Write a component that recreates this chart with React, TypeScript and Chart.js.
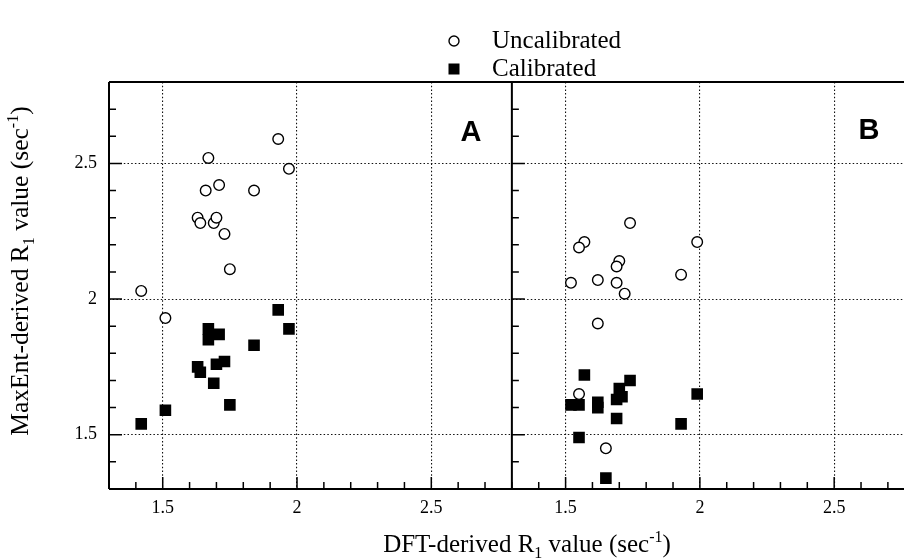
import React, { useEffect, useRef } from 'react';
import { Chart, registerables } from 'chart.js';

Chart.register(...registerables);

// Axis ranges and tick values
const xMin = 1.3;
const xMaxA = 2.8;
const xMaxB = 2.76; // panel B is cut off at the right edge of the figure
const yMin = 1.3;
const yMax = 2.8;
const xTickValues = [1.5, 2, 2.5];
const yTickValues = [1.5, 2, 2.5];

// Panel A
const aUncalX = [1.42, 1.51, 1.67, 1.93, 1.97, 1.71, 1.66, 1.84, 1.63, 1.64, 1.69, 1.70, 1.73, 1.75];
const aUncalY = [2.03, 1.93, 2.52, 2.59, 2.48, 2.42, 2.40, 2.40, 2.30, 2.28, 2.28, 2.30, 2.24, 2.11];
const aCalX = [1.42, 1.51, 1.93, 1.97, 1.67, 1.71, 1.67, 1.84, 1.63, 1.64, 1.70, 1.73, 1.69, 1.75];
const aCalY = [1.54, 1.59, 1.96, 1.89, 1.89, 1.87, 1.85, 1.83, 1.75, 1.73, 1.76, 1.77, 1.69, 1.61];

// Panel B
const bUncalX = [1.74, 1.57, 1.55, 1.99, 1.70, 1.69, 1.52, 1.62, 1.69, 1.93, 1.72, 1.62, 1.55, 1.65];
const bUncalY = [2.28, 2.21, 2.19, 2.21, 2.14, 2.12, 2.06, 2.07, 2.06, 2.09, 2.02, 1.91, 1.65, 1.45];
const bCalX = [1.57, 1.74, 1.70, 1.71, 1.69, 1.99, 1.62, 1.62, 1.52, 1.55, 1.69, 1.93, 1.55, 1.65];
const bCalY = [1.72, 1.70, 1.67, 1.64, 1.63, 1.65, 1.62, 1.60, 1.61, 1.61, 1.56, 1.54, 1.49, 1.34];

const legendLabels = ['Uncalibrated', 'Calibrated'];
const panelLabels = ['A', 'B'];

const SERIF = '"Liberation Serif", "Times New Roman", serif';
const SANS = '"Liberation Sans", Arial, sans-serif';

const toPoints = (xs: number[], ys: number[]) => xs.map((x, i) => ({ x, y: ys[i] }));

type Run = { t: string; size: number; dy: number };

function drawRuns(ctx: CanvasRenderingContext2D, runs: Run[], cx: number, baseline: number) {
  let total = 0;
  const widths = runs.map((r) => {
    ctx.font = `${r.size}px ${SERIF}`;
    const w = ctx.measureText(r.t).width;
    total += w;
    return w;
  });
  let x = cx - total / 2;
  ctx.textAlign = 'left';
  ctx.textBaseline = 'alphabetic';
  runs.forEach((r, i) => {
    ctx.font = `${r.size}px ${SERIF}`;
    ctx.fillText(r.t, x, baseline + r.dy);
    x += widths[i];
  });
}

const isMajor = (v: number, majors: number[]) => majors.some((m) => Math.abs(m - v) < 1e-6);

const decorPlugin = {
  id: 'decor',
  afterDraw(chart: any) {
    const ctx: CanvasRenderingContext2D = chart.ctx;
    const ca = chart.chartArea;
    const sA = chart.scales.xA;
    const sB = chart.scales.xB;
    const sY = chart.scales.y;
    ctx.save();
    ctx.strokeStyle = '#000';
    ctx.fillStyle = '#000';

    // inward tick marks
    ctx.lineWidth = 1.5;
    ctx.beginPath();
    for (let k = Math.round(yMin * 10); k <= Math.round(yMax * 10); k++) {
      const v = k / 10;
      const py = sY.getPixelForValue(v);
      const len = isMajor(v, yTickValues) ? 13 : 7;
      ctx.moveTo(sA.left, py);
      ctx.lineTo(sA.left + len, py);
      ctx.moveTo(sB.left, py);
      ctx.lineTo(sB.left + len, py);
    }
    const xTicks = (s: any, max: number) => {
      for (let k = Math.round(xMin * 10) + 1; k <= Math.floor(max * 10 + 1e-6); k++) {
        const v = k / 10;
        const px = s.getPixelForValue(v);
        const len = isMajor(v, xTickValues) ? 12 : 7;
        ctx.moveTo(px, ca.bottom);
        ctx.lineTo(px, ca.bottom - len);
      }
    };
    xTicks(sA, xMaxA);
    xTicks(sB, xMaxB);
    ctx.stroke();

    // frame
    ctx.lineWidth = 2;
    ctx.beginPath();
    ctx.moveTo(ca.left, ca.top);
    ctx.lineTo(ca.right, ca.top);
    ctx.moveTo(ca.left, ca.top);
    ctx.lineTo(ca.left, ca.bottom);
    ctx.moveTo(ca.left, ca.bottom);
    ctx.lineTo(ca.right, ca.bottom);
    ctx.moveTo(sB.left, ca.top);
    ctx.lineTo(sB.left, ca.bottom);
    ctx.stroke();

    // panel letters
    ctx.font = `bold 29px ${SANS}`;
    ctx.textAlign = 'center';
    ctx.textBaseline = 'middle';
    ctx.fillText(panelLabels[0], sA.right - 41, ca.top + 51);
    ctx.fillText(panelLabels[1], sB.right - 35, ca.top + 49);

    // legend
    ctx.lineWidth = 1.4;
    ctx.fillStyle = '#fff';
    ctx.beginPath();
    ctx.arc(454, 41, 5, 0, Math.PI * 2);
    ctx.fill();
    ctx.stroke();
    ctx.fillStyle = '#000';
    ctx.fillRect(454 - 5.5, 69 - 5.5, 11, 11);
    ctx.font = `25px ${SERIF}`;
    ctx.textAlign = 'left';
    ctx.textBaseline = 'alphabetic';
    ctx.fillText(legendLabels[0], 492, 48);
    ctx.fillText(legendLabels[1], 492, 76);

    // x axis title
    drawRuns(
      ctx,
      [
        { t: 'DFT-derived R', size: 25, dy: 0 },
        { t: '1', size: 16, dy: 6 },
        { t: ' value (sec', size: 25, dy: 0 },
        { t: '-1', size: 16, dy: -10 },
        { t: ')', size: 25, dy: 0 },
      ],
      527,
      552
    );

    // y axis title (rotated)
    ctx.translate(28, 271);
    ctx.rotate(-Math.PI / 2);
    drawRuns(
      ctx,
      [
        { t: 'MaxEnt-derived R', size: 25.5, dy: 0 },
        { t: '1', size: 16, dy: 6 },
        { t: ' value (sec', size: 25.5, dy: 0 },
        { t: '-1', size: 16, dy: -10 },
        { t: ')', size: 25.5, dy: 0 },
      ],
      0,
      0
    );
    ctx.restore();
  },
};

const fmt = (v: number) => String(Math.round(v * 10) / 10);

function xScale(max: number, weight: number) {
  return {
    type: 'linear',
    position: 'bottom',
    stack: 'panels',
    stackWeight: weight,
    min: xMin,
    max,
    afterBuildTicks: (s: any) => {
      s.ticks = xTickValues.map((v) => ({ value: v }));
    },
    afterFit: (s: any) => {
      s.height = 29;
    },
    ticks: {
      padding: 8,
      color: '#000',
      font: { family: SERIF, size: 18 },
      callback: (v: number) => fmt(v),
      maxRotation: 0,
      autoSkip: false,
    },
    grid: {
      drawTicks: false,
      color: '#111',
      lineWidth: 1.1,
    },
    border: { display: false, dash: [1.5, 2.2] },
  };
}

export default function App() {
  const ref = useRef<HTMLCanvasElement | null>(null);

  useEffect(() => {
    if (!ref.current) return;
    const pointStyleOpen = {
      pointStyle: 'circle',
      pointRadius: 5.3,
      pointBorderWidth: 1.4,
      pointBackgroundColor: '#fff',
      pointBorderColor: '#000',
    };
    const pointStyleFilled = {
      pointStyle: 'rect',
      pointRadius: 8.2,
      pointBorderWidth: 0,
      pointBackgroundColor: '#000',
      pointBorderColor: '#000',
    };
    const chart = new Chart(ref.current, {
      type: 'scatter',
      data: {
        datasets: [
          { label: 'A ' + legendLabels[0], data: toPoints(aUncalX, aUncalY), xAxisID: 'xA', yAxisID: 'y', ...pointStyleOpen },
          { label: 'A ' + legendLabels[1], data: toPoints(aCalX, aCalY), xAxisID: 'xA', yAxisID: 'y', ...pointStyleFilled },
          { label: 'B ' + legendLabels[0], data: toPoints(bUncalX, bUncalY), xAxisID: 'xB', yAxisID: 'y', ...pointStyleOpen },
          { label: 'B ' + legendLabels[1], data: toPoints(bCalX, bCalY), xAxisID: 'xB', yAxisID: 'y', ...pointStyleFilled },
        ],
      } as any,
      options: {
        responsive: false,
        animation: false,
        devicePixelRatio: 1,
        layout: { autoPadding: false, padding: { left: 75, right: 0, top: 82, bottom: 41 } },
        plugins: {
          legend: { display: false },
          tooltip: { enabled: false },
          title: { display: false },
        },
        scales: {
          xA: xScale(xMaxA, xMaxA - xMin),
          xB: xScale(xMaxB, xMaxB - xMin),
          y: {
            type: 'linear',
            position: 'left',
            min: yMin,
            max: yMax,
            afterBuildTicks: (s: any) => {
              s.ticks = yTickValues.map((v) => ({ value: v }));
            },
            afterFit: (s: any) => {
              s.width = 34;
            },
            ticks: {
              padding: 12,
              color: '#000',
              font: { family: SERIF, size: 18 },
              callback: (v: number) => fmt(v),
            },
            grid: {
              drawTicks: false,
              color: '#111',
              lineWidth: 1.1,
            },
            border: { display: false, dash: [1.5, 2.2] },
          },
        },
      } as any,
      plugins: [decorPlugin],
    });
    return () => chart.destroy();
  }, []);

  return (
    <div style={{ position: 'fixed', left: 0, top: 0, width: 904, height: 559, background: '#fff' }}>
      <canvas ref={ref} width={904} height={559} style={{ display: 'block' }} />
    </div>
  );
}
